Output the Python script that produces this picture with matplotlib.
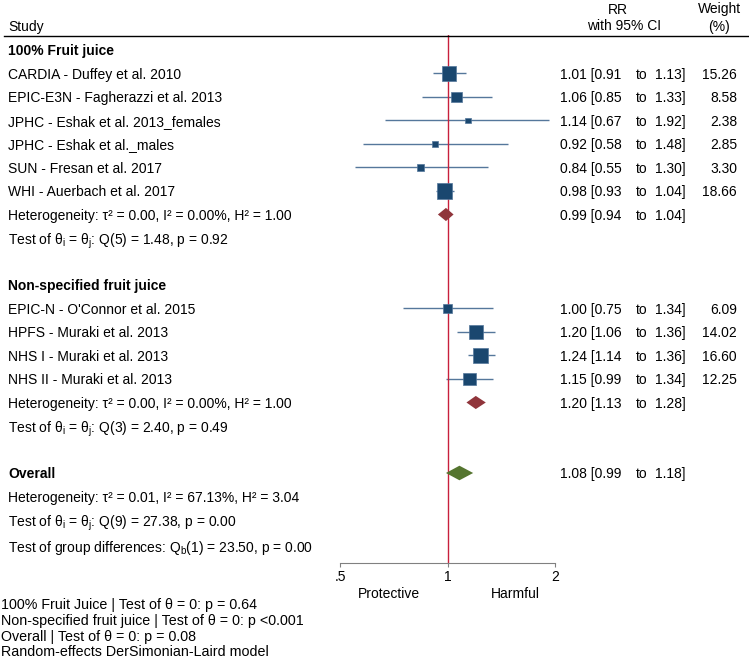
import matplotlib.pyplot as plt
import matplotlib.transforms as mtransforms
from matplotlib.lines import Line2D
from matplotlib.ticker import NullLocator

plt.rcParams["font.family"] = ["Liberation Sans", "DejaVu Sans"]
plt.rcParams["mathtext.fontset"] = "custom"
plt.rcParams["mathtext.rm"] = "Liberation Sans"
plt.rcParams["mathtext.it"] = "Liberation Sans:italic"
plt.rcParams["mathtext.bf"] = "Liberation Sans:bold"

# ---- data ----
group_names = ["100% Fruit juice", "Non-specified fruit juice"]
studies_g1 = ["CARDIA - Duffey et al. 2010",
              "EPIC-E3N - Fagherazzi et al. 2013",
              "JPHC - Eshak et al. 2013_females",
              "JPHC - Eshak et al._males",
              "SUN - Fresan et al. 2017",
              "WHI - Auerbach et al. 2017"]
rr_g1 = [1.01, 1.06, 1.14, 0.92, 0.84, 0.98]
lo_g1 = [0.91, 0.85, 0.67, 0.58, 0.55, 0.93]
hi_g1 = [1.13, 1.33, 1.92, 1.48, 1.30, 1.04]
wt_g1 = [15.26, 8.58, 2.38, 2.85, 3.30, 18.66]

studies_g2 = ["EPIC-N - O'Connor et al. 2015",
              "HPFS - Muraki et al. 2013",
              "NHS I - Muraki et al. 2013",
              "NHS II - Muraki et al. 2013"]
rr_g2 = [1.00, 1.20, 1.24, 1.15]
lo_g2 = [0.75, 1.06, 1.14, 0.99]
hi_g2 = [1.34, 1.36, 1.36, 1.34]
wt_g2 = [6.09, 14.02, 16.60, 12.25]

# pooled estimates: group 1, group 2, overall
pooled_rr = [0.99, 1.20, 1.08]
pooled_lo = [0.94, 1.13, 0.99]
pooled_hi = [1.04, 1.28, 1.18]

het_g1 = "Heterogeneity: τ² = 0.00, I² = 0.00%, H² = 1.00"
test_g1 = r"Test of θ$_\mathrm{i}$ = θ$_\mathrm{j}$: Q(5) = 1.48, p = 0.92"
het_g2 = "Heterogeneity: τ² = 0.00, I² = 0.00%, H² = 1.00"
test_g2 = r"Test of θ$_\mathrm{i}$ = θ$_\mathrm{j}$: Q(3) = 2.40, p = 0.49"
het_all = "Heterogeneity: τ² = 0.01, I² = 67.13%, H² = 3.04"
test_all = r"Test of θ$_\mathrm{i}$ = θ$_\mathrm{j}$: Q(9) = 27.38, p = 0.00"
test_groups = r"Test of group differences: Q$_\mathrm{b}$(1) = 23.50, p = 0.00"

notes = ["100% Fruit Juice | Test of θ = 0: p = 0.64",
         "Non-specified fruit juice | Test of θ = 0: p <0.001",
         "Overall | Test of θ = 0: p = 0.08",
         "Random-effects DerSimonian-Laird model"]

# ---- figure ----
W, H = 749, 663
FS = 10
VA = "center_baseline"
fig = plt.figure(figsize=(W / 100, H / 100), dpi=100)
ax = fig.add_axes([340 / W, 1 - 563 / H, 215 / W, (563 - 35) / H])
ax.set_xscale("log")
ax.set_xlim(0.5, 2)
ax.set_ylim(21.83, -0.638)

trans = mtransforms.blended_transform_factory(fig.transFigure, ax.transData)

sq_col = "#1a476f"
ci_col = "#55779b"
dia_cols = ["#90353b", "#90353b", "#55752f"]

ax.axvline(1, color="#c8203c", lw=1, zorder=2)


def rr_text(r, e, l, h):
    ax.text(560 / W, r, f"{e:.2f} [{l:.2f}", transform=trans, va=VA,
            fontsize=FS)
    ax.text(636 / W, r, "to", transform=trans, va=VA, fontsize=FS)
    ax.text(686 / W, r, f"{h:.2f}]", transform=trans, va=VA, ha="right",
            fontsize=FS)


def study_block(rows, names, rr, lo, hi, wt):
    ax.hlines(rows, lo, hi, color=ci_col, lw=1, zorder=1)
    ax.scatter(rr, rows, marker="s", s=[6.8 * w for w in wt],
               color=sq_col, edgecolors=ci_col, linewidths=0.5, zorder=3)
    for r, n, e, l, h, w in zip(rows, names, rr, lo, hi, wt):
        ax.text(8 / W, r, n, transform=trans, va=VA, fontsize=FS)
        rr_text(r, e, l, h)
        ax.text(737 / W, r, f"{w:.2f}", transform=trans, va=VA,
                ha="right", fontsize=FS)


def diamond(r, i, hh):
    e, l, h = pooled_rr[i], pooled_lo[i], pooled_hi[i]
    ax.fill([l, e, h, e], [r, r - hh, r, r + hh], color=dia_cols[i],
            lw=0, zorder=3)
    rr_text(r, e, l, h)


def left(r, s, bold=False):
    ax.text(8 / W, r, s, transform=trans, va=VA, fontsize=FS,
            fontweight="bold" if bold else "normal")


# group 1
left(0, group_names[0], bold=True)
study_block([1, 2, 3, 4, 5, 6], studies_g1, rr_g1, lo_g1, hi_g1, wt_g1)
left(7, het_g1)
diamond(7, 0, 0.28)
left(8, test_g1)

# group 2
left(10, group_names[1], bold=True)
study_block([11, 12, 13, 14], studies_g2, rr_g2, lo_g2, hi_g2, wt_g2)
left(15, het_g2)
diamond(15, 1, 0.28)
left(16, test_g2)

# overall
left(18, "Overall", bold=True)
diamond(18, 2, 0.31)
left(19, het_all)
left(20, test_all)
left(21.1, test_groups)

# axis styling
for s in ["top", "right", "left"]:
    ax.spines[s].set_visible(False)
ax.spines["bottom"].set_color("#808080")
ax.set_yticks([])
ax.set_xticks([0.5, 1, 2])
ax.set_xticklabels([".5", "1", "2"])
ax.xaxis.set_minor_locator(NullLocator())
ax.tick_params(axis="x", colors="#808080", labelcolor="black",
               length=3, pad=2, labelsize=FS)

fig.text(389 / W, 1 - 592 / H, "Protective", ha="center", va=VA,
         fontsize=FS)
fig.text(515 / W, 1 - 592 / H, "Harmful", ha="center", va=VA,
         fontsize=FS)

# header
fig.add_artist(Line2D([4 / W, 1], [1 - 36 / H] * 2, color="black", lw=1))
fig.text(8 / W, 1 - 25 / H, "Study", va=VA, fontsize=FS)
fig.text(618 / W, 1 - 8 / H, "RR", ha="center", va=VA, fontsize=FS)
fig.text(624 / W, 1 - 25 / H, "with 95% CI", ha="center", va=VA,
         fontsize=FS)
fig.text(720 / W, 1 - 8 / H, "Weight", ha="center", va=VA, fontsize=FS)
fig.text(719 / W, 1 - 25 / H, "(%)", ha="center", va=VA, fontsize=FS)

# notes
for i, n in enumerate(notes):
    fig.text(1 / W, 1 - (603 + 16 * i) / H, n, va=VA, fontsize=10.3)

fig.savefig("out.png", dpi=100)
